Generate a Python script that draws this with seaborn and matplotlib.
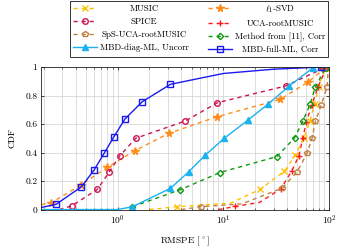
import matplotlib
matplotlib.use('Agg')
import matplotlib.pyplot as plt
import seaborn as sns
import numpy as np

# 数据
music_x = [2.0, 3.66, 11.7, 22.3, 37.9, 47.7, 58, 66, 73, 80, 91]
music_y = [0.0, 0.02, 0.045, 0.142, 0.27, 0.38, 0.5, 0.62, 0.74, 0.86, 0.99]
music_mk = [1, 3, 4, 5, 6, 7, 8, 9, 10]

l1svd_x = [0.19, 0.236, 0.448, 0.8, 1.45, 3.05, 8.7, 34.5, 64, 92]
l1svd_y = [0.035, 0.048, 0.172, 0.296, 0.413, 0.535, 0.651, 0.773, 0.897, 0.995]
l1svd_mk = [1, 2, 3, 4, 5, 6, 7, 8, 9]

spice_x = [0.28, 0.366, 0.643, 0.828, 1.05, 1.48, 4.35, 8.8, 38.8, 88]
spice_y = [0.0, 0.025, 0.142, 0.261, 0.378, 0.5, 0.621, 0.75, 0.867, 0.99]
spice_mk = [1, 2, 3, 4, 5, 6, 7, 8, 9]

uca_x = [9.0, 13, 22, 35, 44.4, 52, 56.5, 61, 69, 78.7, 94]
uca_y = [0.0, 0.022, 0.05, 0.145, 0.27, 0.378, 0.5, 0.615, 0.735, 0.86, 0.99]
uca_mk = [1, 3, 4, 5, 6, 7, 8, 9, 10]

sps_x = [4.0, 6.1, 15, 36, 50, 62, 69.4, 74.3, 84.6, 96, 98.5]
sps_y = [0.0, 0.02, 0.04, 0.15, 0.265, 0.395, 0.504, 0.619, 0.735, 0.86, 0.99]
sps_mk = [1, 3, 4, 5, 6, 7, 8, 9, 10]

m11_x = [1.38, 3.93, 9.3, 32.2, 47.4, 56.5, 66.6, 74.3, 93]
m11_y = [0.02, 0.14, 0.26, 0.372, 0.505, 0.619, 0.742, 0.86, 0.993]
m11_mk = [0, 1, 2, 3, 4, 5, 6, 7, 8]

diag_x = [0.19, 1.0, 1.38, 3.16, 4.7, 6.7, 10.2, 17.1, 26.5, 42, 71]
diag_y = [0.0, 0.0, 0.02, 0.149, 0.265, 0.38, 0.5, 0.628, 0.74, 0.867, 0.996]
diag_mk = [2, 3, 4, 5, 6, 7, 8, 9, 10]

full_x = [0.19, 0.26, 0.454, 0.597, 0.743, 0.92, 1.17, 1.71, 3.16, 10, 30, 84.6]
full_y = [0.015, 0.036, 0.16, 0.277, 0.394, 0.51, 0.635, 0.757, 0.879, 0.955, 0.985, 1.0]
full_mk = [1, 2, 3, 4, 5, 6, 7, 8, 11]

labels = ['MUSIC', r'$\ell_1$-SVD', 'SPICE', 'UCA-rootMUSIC', 'SpS-UCA-rootMUSIC',
          'Method from [11], Corr', 'MBD-diag-ML, Uncorr', 'MBD-full-ML, Corr']
ytick_vals = [0, 0.2, 0.4, 0.6, 0.8, 1]
ytick_labels = ['0', '0.2', '0.4', '0.6', '0.8', '1']

# 字体设置
plt.rcParams['font.family'] = 'serif'
plt.rcParams['font.serif'] = ['cmr10', 'DejaVu Serif']
plt.rcParams['mathtext.fontset'] = 'cm'
plt.rcParams['axes.formatter.use_mathtext'] = True

fig = plt.figure(figsize=(3.42, 2.48), dpi=100)
ax = fig.add_axes([0.1213, 0.155, 0.8406, 0.5746])

series = [
    (music_x, music_y, music_mk, '#FFC000', 'x', '--', True),
    (l1svd_x, l1svd_y, l1svd_mk, '#FF8C1A', '*', '--', True),
    (spice_x, spice_y, spice_mk, '#CC1450', 'o', '--', False),
    (uca_x, uca_y, uca_mk, '#FF1A1A', '+', '--', True),
    (sps_x, sps_y, sps_mk, '#C08040', 'p', '--', False),
    (m11_x, m11_y, m11_mk, '#119911', 'D', '--', False),
    (diag_x, diag_y, diag_mk, '#1AB2F0', '^', '-', True),
    (full_x, full_y, full_mk, '#1A1AF0', 's', '-', False),
]

for (xs, ys, mk, c, m, ls, filled), lab in zip(series, labels):
    ms = 4.0
    if m == 'D':
        ms = 3.2
    if m == '*':
        ms = 5.5
    if m in ('x', '+'):
        ms = 4.3
    sns.lineplot(x=xs, y=ys, ax=ax, color=c, marker=m, markevery=mk,
                 linestyle=ls, linewidth=1.0, markersize=ms,
                 markeredgecolor=c, markeredgewidth=1.0,
                 markerfacecolor=(c if filled else 'none'),
                 estimator=None, sort=False, label=lab)
    if ls == '--':
        ax.get_lines()[-1].set_dashes((3.0, 2.8))

ax.get_legend().remove()

ax.set_xscale('log')
ax.set_xlim(0.19, 100)
ax.set_ylim(0, 1)
ax.set_yticks(ytick_vals)
ax.set_yticklabels(ytick_labels)
ax.grid(True, which='major', color='#d0d0d0', linewidth=0.5)
ax.grid(True, which='minor', axis='x', color='#d0d0d0', linewidth=0.5)
ax.set_axisbelow(True)
ax.tick_params(which='both', direction='in', top=True, right=True, labelsize=6.8, pad=3)
ax.tick_params(which='major', length=2.5, width=0.5)
ax.tick_params(which='minor', length=1.5, width=0.4)
for s in ax.spines.values():
    s.set_linewidth(0.6)
    s.set_color('#222222')

ax.set_xlabel(r'RMSPE [$^\circ$]', fontsize=6.8, labelpad=5)
ax.set_ylabel('CDF', fontsize=6.8, labelpad=6)

# 图例: 按行排列 -> matplotlib 按列填充
handles, labs = ax.get_legend_handles_labels()
order = [0, 2, 4, 6, 1, 3, 5, 7]
leg = fig.legend([handles[i] for i in order], [labs[i] for i in order], ncol=2,
                 loc='upper left', bbox_to_anchor=(0.205, 0.996, 0.754, 0.0),
                 mode='expand', borderaxespad=0, fontsize=6.4, handlelength=2.7,
                 handletextpad=0.35, labelspacing=0.5, borderpad=0.28,
                 fancybox=False, framealpha=1, numpoints=1)
leg.get_frame().set_edgecolor('#333333')
leg.get_frame().set_linewidth(0.7)

# 图例文字居中
fig.canvas.draw()
r = fig.canvas.get_renderer()
texts = leg.get_texts()
for col in (texts[:4], texts[4:]):
    ws = [t.get_window_extent(r).width for t in col]
    mw = max(ws)
    for t, w in zip(col, ws):
        t.set_x((mw - w) / 2)

plt.savefig('out.png', dpi=100)
